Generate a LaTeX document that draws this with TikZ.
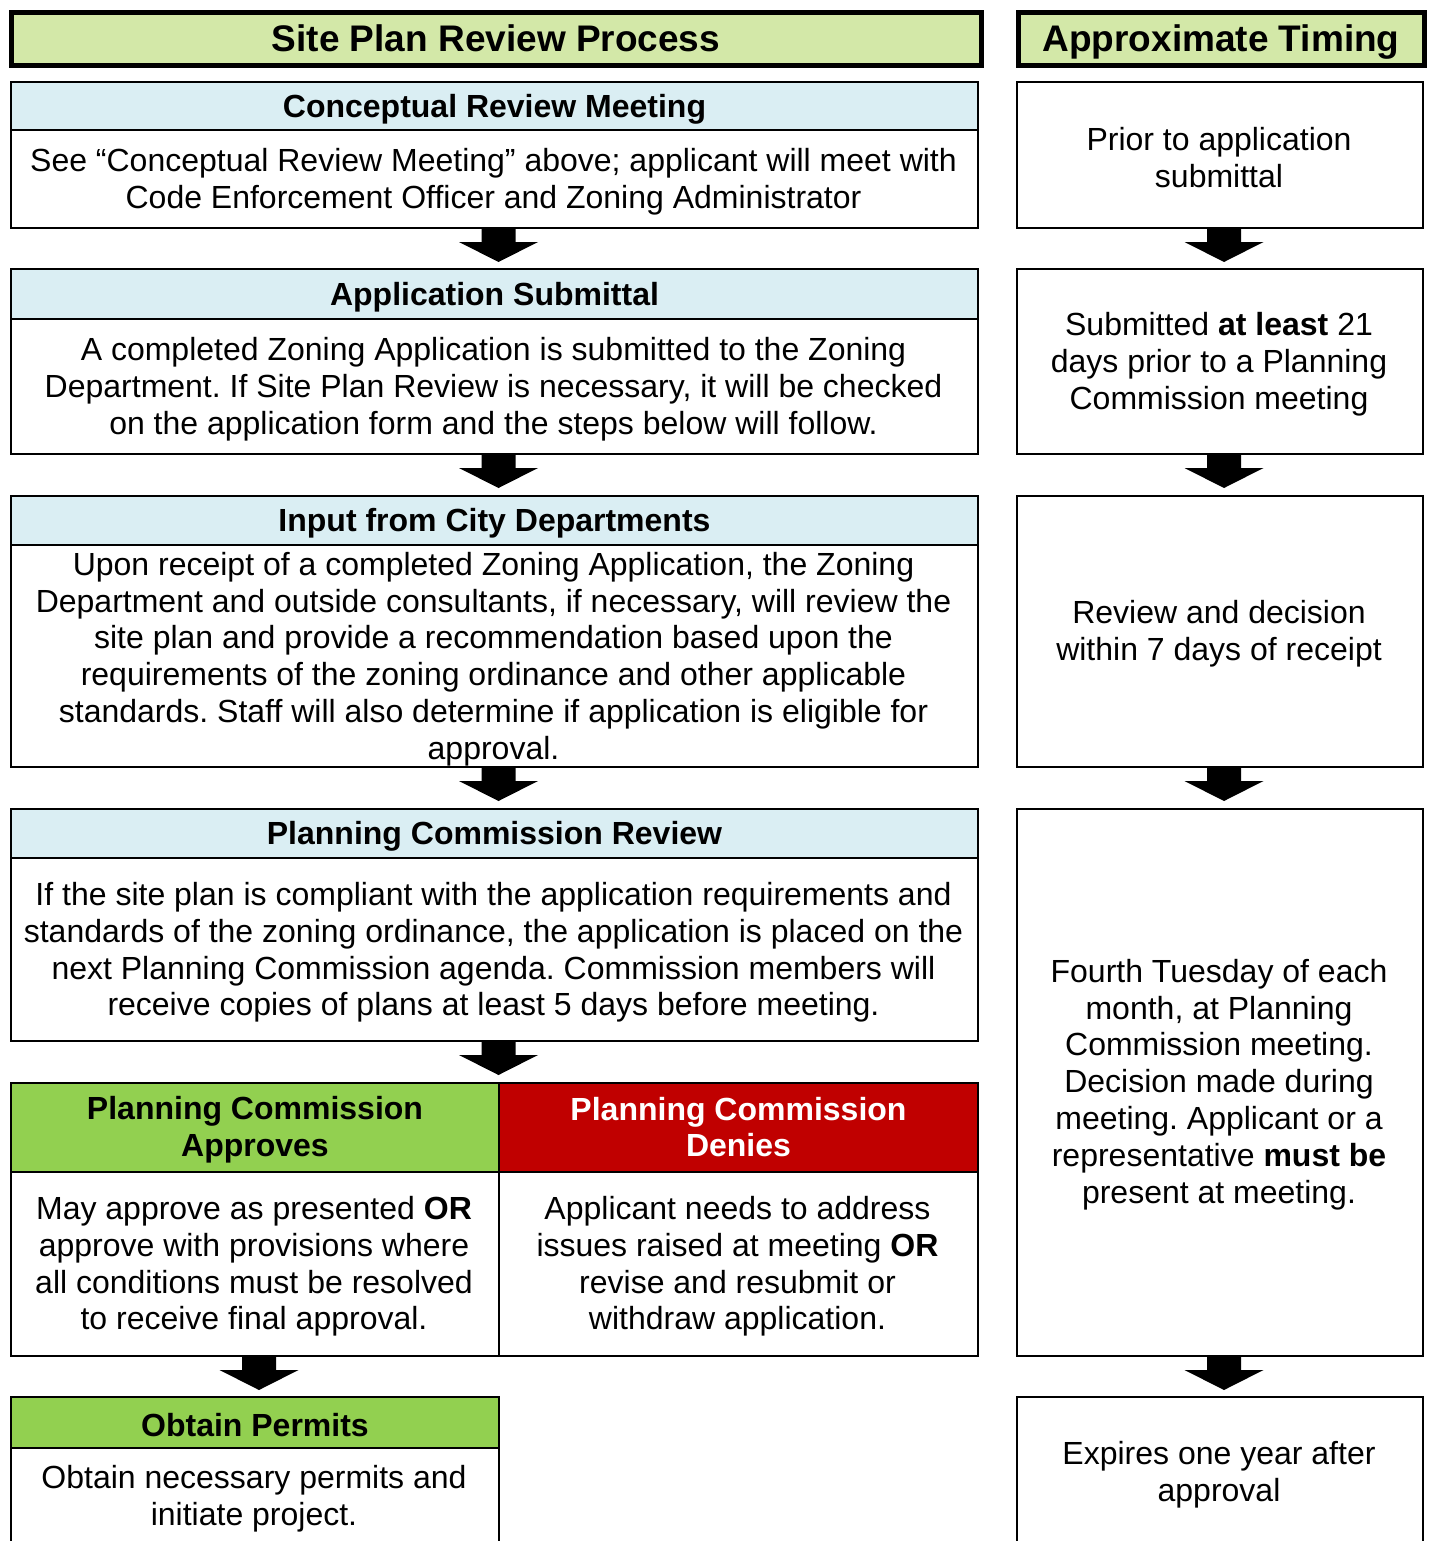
\documentclass[tikz,border=0pt]{standalone}
\usepackage{fontspec}
\setmainfont{Liberation Sans}
\frenchspacing
\definecolor{titlegreen}{HTML}{D3E8A8}
\definecolor{lblue}{HTML}{DAEEF3}
\definecolor{pgreen}{HTML}{92D050}
\definecolor{pred}{HTML}{C00000}
\newcommand\blockarr[1]{\fill ([xshift=4]#1.south) ++(-17,0) -- ++(0,-13) -- ++(-22.5,0) -- ++(39.5,-20) -- ++(39.5,20) -- ++(-22.5,0) -- ++(0,13) -- cycle;}
\begin{document}
\begin{tikzpicture}[x=1pt,y=1pt,
  box/.style={draw, line width=2pt, inner sep=0pt, anchor=north west},
  hdr/.style={draw, line width=2pt, inner sep=0pt, anchor=north west},
  htxt/.style={align=center, inner sep=0pt, font=\fontsize{32}{36.8}\selectfont\bfseries},
  ttl/.style={draw, line width=5pt, fill=titlegreen, inner sep=0pt, anchor=north west},
  ttxt/.style={inner sep=0pt, font=\fontsize{37}{42}\selectfont\bfseries},
  txt/.style={align=center, inner sep=0pt, font=\fontsize{32}{36.8}\selectfont}]
\useasboundingbox (0,0) rectangle (1429,-1541);
\clip (0,0) rectangle (1429,-1541);
% titles
\node[ttl, minimum width=970, minimum height=53] (t1) at (8.5,-10.5) {};
\node[ttxt] (t1t) at ([yshift=1]t1.center) {Site Plan Review Process};
\node[ttl, minimum width=406, minimum height=53] (t2) at (1015.5,-10.5) {};
\node[ttxt] (t2t) at ([yshift=-3]t2.center) {Approximate Timing};
% left column
\node[box, minimum width=967, minimum height=146] (b1) at (10,-81) {};
\node[hdr, fill=lblue, minimum width=967, minimum height=48] (b1h) at (b1.north west) {};
\node[htxt] (b1ht) at ([yshift=-3]b1h.center) {Conceptual Review Meeting};
\node[txt] (b1t) at (493.5,-182) {See “Conceptual Review Meeting” above; applicant will meet with\\Code Enforcement Officer and Zoning Administrator};

\node[box, minimum width=967, minimum height=185] (b2) at (10,-268) {};
\node[hdr, fill=lblue, minimum width=967, minimum height=50] (b2h) at (b2.north west) {};
\node[htxt] (b2ht) at ([yshift=-3]b2h.center) {Application Submittal};
\node[txt] (b2t) at (493.5,-389) {A completed Zoning Application is submitted to the Zoning\\Department. If Site Plan Review is necessary, it will be checked\\on the application form and the steps below will follow.};

\node[box, minimum width=967, minimum height=271] (b3) at (10,-495) {};
\node[hdr, fill=lblue, minimum width=967, minimum height=49] (b3h) at (b3.north west) {};
\node[htxt] (b3ht) at ([yshift=-3]b3h.center) {Input from City Departments};
\node[txt] (b3t) at (493.5,-659) {Upon receipt of a completed Zoning Application, the Zoning\\Department and outside consultants, if necessary, will review the\\site plan and provide a recommendation based upon the\\requirements of the zoning ordinance and other applicable\\standards. Staff will also determine if application is eligible for\\approval.};

\node[box, minimum width=967, minimum height=232] (b4) at (10,-808) {};
\node[hdr, fill=lblue, minimum width=967, minimum height=49] (b4h) at (b4.north west) {};
\node[htxt] (b4ht) at ([yshift=-3]b4h.center) {Planning Commission Review};
\node[txt] (b4t) at (493.5,-952.5) {If the site plan is compliant with the application requirements and\\standards of the zoning ordinance, the application is placed on the\\next Planning Commission agenda. Commission members will\\receive copies of plans at least 5 days before meeting.};

\node[box, minimum width=488, minimum height=273] (ba) at (10,-1082) {};
\node[hdr, fill=pgreen, minimum width=488, minimum height=89] (bah) at (ba.north west) {};
\node[htxt] (baht) at ([yshift=-2.5]bah.center) {Planning Commission\\Approves};
\node[txt] (bat) at (254,-1266.5) {May approve as presented \textbf{OR}\\approve with provisions where\\all conditions must be resolved\\to receive final approval.};

\node[box, minimum width=479, minimum height=273] (bd) at (498,-1082) {};
\node[hdr, fill=pred, minimum width=479, minimum height=89] (bdh) at (bd.north west) {};
\node[htxt, text=white] (bdht) at ([yshift=0.5]bdh.center) {Planning Commission\\Denies};
\node[txt] (bdt) at (737.5,-1266.5) {Applicant needs to address\\issues raised at meeting \textbf{OR}\\revise and resubmit or\\withdraw application.};

\node[box, minimum width=488, minimum height=170] (bp) at (10,-1396) {};
\node[hdr, fill=pgreen, minimum width=488, minimum height=51] (bph) at (bp.north west) {};
\node[htxt] (bpht) at ([yshift=-3]bph.center) {Obtain Permits};
\node[txt] (bpt) at (254,-1498.5) {Obtain necessary permits and\\initiate project.};

% right column
\node[box, minimum width=406, minimum height=146] (r1) at (1016,-81) {};
\node[txt] (r1t) at (1219,-157.5) {Prior to application\\submittal};
\node[box, minimum width=406, minimum height=185] (r2) at (1016,-268) {};
\node[txt] (r2t) at (1219,-364.5) {Submitted \textbf{at least} 21\\days prior to a Planning\\Commission meeting};
\node[box, minimum width=406, minimum height=271] (r3) at (1016,-495) {};
\node[txt] (r3t) at (1219,-634) {Review and decision\\within 7 days of receipt};
\node[box, minimum width=406, minimum height=547] (r4) at (1016,-808) {};
\node[txt] (r4t) at (1219,-1084.5) {Fourth Tuesday of each\\month, at Planning\\Commission meeting.\\Decision made during\\meeting. Applicant or a\\representative \textbf{must be}\\present at meeting.};
\node[box, minimum width=406, minimum height=170] (r5) at (1016,-1396) {};
\node[txt] (r5t) at (1219,-1474.5) {Expires one year after\\approval};

% arrows
\blockarr{b1}
\blockarr{b2}
\blockarr{b3}
\blockarr{b4}
\blockarr{ba}
\blockarr{r1}
\blockarr{r2}
\blockarr{r3}
\blockarr{r4}
\end{tikzpicture}
\end{document}
